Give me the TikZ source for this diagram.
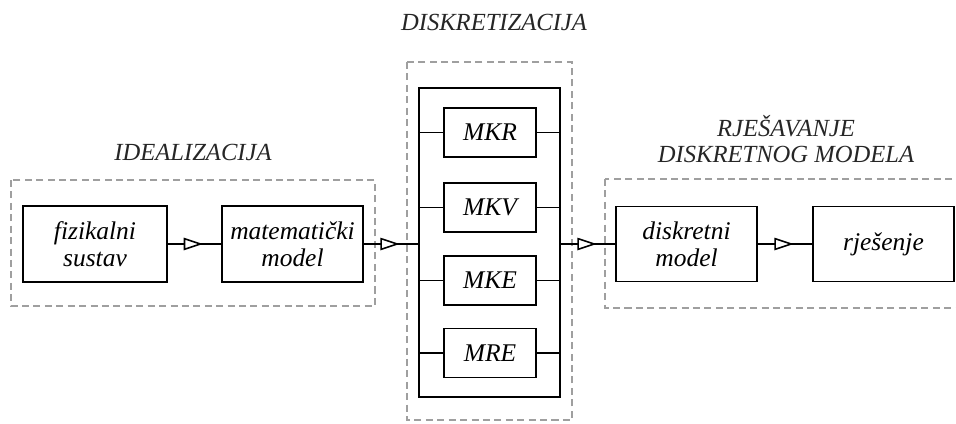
\documentclass[tikz,border=0pt]{standalone}
\usepackage{fontspec}
\setmainfont{Liberation Serif}
\usetikzlibrary{arrows.meta,decorations.markings}

\begin{document}
\begin{tikzpicture}[x=0.02cm, y=-0.02cm, font=\fontsize{14.5}{15.3}\selectfont\itshape,
  blok/.style={draw, line width=0.9pt, align=center, inner sep=2pt},
  grupa/.style={draw=gray!75, dash pattern=on 4pt off 2.5pt, line width=0.7pt},
  naslov/.style={align=center, text=black!85, font=\fontsize{14}{15.3}\selectfont\itshape},
  tok/.style={line width=0.9pt, postaction={decorate}, decoration={markings,
    mark=at position 0.66 with {\arrow{Triangle[fill=white, length=11pt, width=7pt, line width=0.9pt]}}}}]
\clip (0,0) rectangle (956,423);
\def\ymid{244}
\draw[grupa] (11,180) rectangle (375,306);
\draw[grupa] (407,62) rectangle (572,420);
\draw[grupa] (605,179) rectangle (975,308);
\node[naslov] (ideal) at (193,152) {IDEALIZACIJA};
\node[naslov] (diskret) at (494,22) {DISKRETIZACIJA};
\node[naslov] (rjes) at (786,139) {RJEŠAVANJE\\DISKRETNOG MODELA};
\node[blok, minimum width=2.88cm, minimum height=1.52cm] (fiz) at (95,\ymid) {fizikalni\\sustav};
\node[blok, minimum width=2.82cm, minimum height=1.52cm] (mat) at (292.5,\ymid) {matematički\\model};
\node[draw, line width=0.9pt, minimum width=2.82cm, minimum height=6.18cm] (okvir) at (489.5,242.5) {};
\foreach \ime/\y in {MKR/132.5, MKV/207.5, MKE/280.5, MRE/353} {
  \node[blok, minimum width=1.84cm, minimum height=0.98cm] (\ime) at (490,\y) {\ime};
  \draw[line width=0.9pt] (\ime.west -| okvir.west) -- (\ime.west);
  \draw[line width=0.9pt] (\ime.east) -- (\ime.east -| okvir.east);
}
\node[blok, minimum width=2.82cm, minimum height=1.5cm] (diskr) at (686.5,\ymid) {diskretni\\model};
\node[blok, minimum width=2.82cm, minimum height=1.5cm] (rjesenje) at (883.5,\ymid) {rješenje};
\draw[tok] (fiz) -- (mat);
\draw[tok] (mat.east) -- (mat.east -| okvir.west);
\draw[tok] (diskr.west -| okvir.east) -- (diskr.west);
\draw[tok] (diskr) -- (rjesenje);
\end{tikzpicture}
\end{document}
